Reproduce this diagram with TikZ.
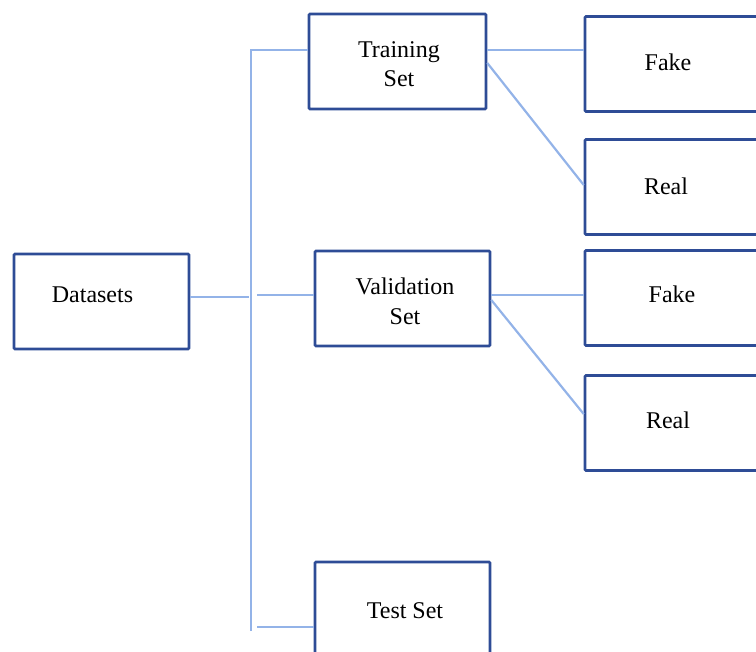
\documentclass[tikz,border=0pt]{standalone}
\usepackage{fontspec}
\setmainfont{Liberation Serif}
\definecolor{boxblue}{HTML}{2E4C96}
\definecolor{linkblue}{HTML}{93B3E8}
\tikzset{
  box/.style={draw=boxblue, line width=2.6pt, rounded corners=1pt, inner sep=0pt, minimum width=#1, minimum height=95pt},
  box/.default=176pt,
  lbl/.style={anchor=base, inner sep=0pt, font=\fontsize{24}{29}\selectfont},
  link/.style={draw=linkblue, line width=2.2pt}
}
\begin{document}
\begin{tikzpicture}[x=1pt,y=-1pt]
\useasboundingbox (0,0) rectangle (756,652);
\clip (0,0) rectangle (756,652);
% boxes
\node[box=175pt] (ds) at (101.5,301.5) {};
\node[box=177pt] (tr) at (397.5,61.5) {};
\node[box=175pt] (va) at (402.5,298.5) {};
\node[box=175pt] (te) at (402.5,609.5) {};
\node[box=177pt] (f1) at (673.5,64) {};
\node[box=177pt] (r1) at (673.5,187) {};
\node[box=177pt] (f2) at (673.5,298) {};
\node[box=177pt] (r2) at (673.5,423) {};
% labels
\node[lbl] (tds) at (92.5,303) {Datasets};
\node[lbl] (ttr1) at (399,58) {Training};
\node[lbl] (ttr2) at (399,87) {Set};
\node[lbl] (tva1) at (405,295) {Validation};
\node[lbl] (tva2) at (405,325) {Set};
\node[lbl] (tte) at (405,618) {Test Set};
\node[lbl] (tf1) at (668,71) {Fake};
\node[lbl] (tr1) at (666,195) {Real};
\node[lbl] (tf2) at (672,303) {Fake};
\node[lbl] (tr2) at (668,429) {Real};
% junction coordinates
\coordinate (jt) at (251,50);
\coordinate (jb) at (251,631);
\coordinate (jd) at (249,297);
\coordinate (jv) at (257,295);
\coordinate (jtest) at (257,627);
% connectors
\draw[link] (jb) -- (jt) -- (tr.west |- jt);
\draw[link] (ds.east |- jd) -- (jd);
\draw[link] (jv) -- (va.west |- jv);
\draw[link] (jtest) -- (te.west |- jtest);
\draw[link] (tr.east |- 0,50) -- (f1.west |- 0,50);
\draw[link] (tr.east |- 0,63) -- (r1.west |- 0,185);
\draw[link] (va.east |- 0,295) -- (f2.west |- 0,295);
\draw[link] (va.east |- 0,300) -- (r2.west |- 0,414);
\end{tikzpicture}
\end{document}
